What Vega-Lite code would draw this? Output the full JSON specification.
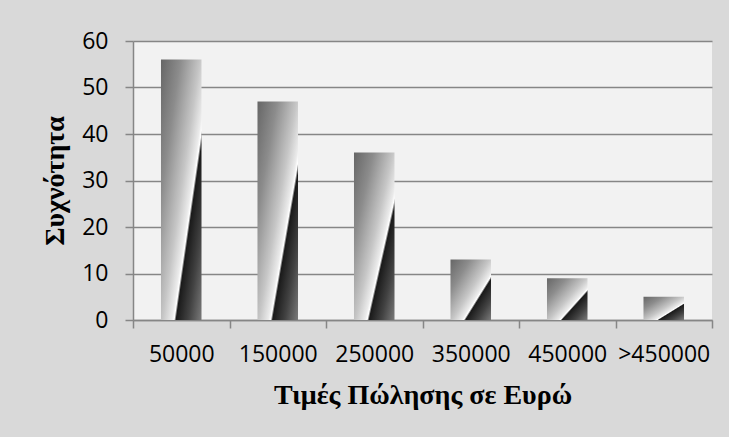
{
  "$schema": "https://vega.github.io/schema/vega-lite/v6.json",
  "width": 579,
  "height": 279,
  "autosize": {"type": "none"},
  "padding": {"left": 133, "top": 41, "right": 17, "bottom": 117},
  "background": "#d9d9d9",
  "config": {"view": {"fill": "#f2f2f2", "stroke": null}},
  "data": {
    "values": [
      {"price": "50000", "freq": 56},
      {"price": "150000", "freq": 47},
      {"price": "250000", "freq": 36},
      {"price": "350000", "freq": 13},
      {"price": "450000", "freq": 9},
      {"price": ">450000", "freq": 5}
    ]
  },
  "encoding": {
    "x": {
      "field": "price",
      "type": "nominal",
      "sort": null,
      "scale": {"paddingInner": 0, "paddingOuter": 0},
      "axis": {
        "title": "Τιμές Πώλησης σε Ευρώ",
        "titleFont": "Liberation Serif",
        "titleFontSize": 28,
        "titleFontWeight": "bold",
        "titleColor": "#000000",
        "titlePadding": 15,
        "labelFont": "Open Sans",
        "labelFontSize": 23,
        "labelColor": "#000000",
        "labelAngle": 0,
        "labelPadding": 15,
        "tickBand": "extent",
        "tickSize": 8,
        "tickColor": "#868686",
        "tickWidth": 1.5,
        "domainColor": "#868686",
        "domainWidth": 1.5,
        "grid": false
      }
    },
    "y": {
      "field": "freq",
      "type": "quantitative",
      "scale": {"domain": [0, 60]},
      "axis": {
        "values": [0, 10, 20, 30, 40, 50, 60],
        "title": "Συχνότητα",
        "titleFont": "Liberation Serif",
        "titleFontSize": 28,
        "titleFontWeight": "bold",
        "titleColor": "#000000",
        "titlePadding": 12,
        "labelFont": "Open Sans",
        "labelFontSize": 23,
        "labelColor": "#000000",
        "labelPadding": 17,
        "tickSize": 8,
        "tickColor": "#868686",
        "tickWidth": 1.5,
        "domainColor": "#868686",
        "domainWidth": 1.5,
        "grid": true,
        "gridColor": "#868686",
        "gridWidth": 1.5
      }
    }
  },
  "mark": {
    "type": "bar",
    "width": {"band": 0.42},
    "fill": {
      "gradient": "linear",
      "x1": 0, "y1": 0, "x2": 1.035, "y2": 0.962,
      "stops": [
        {"offset": 0, "color": "#666666"},
        {"offset": 0.25, "color": "#8c8c8c"},
        {"offset": 0.5, "color": "#c6c6c6"},
        {"offset": 0.62, "color": "#ebebeb"},
        {"offset": 0.65, "color": "#ffffff"},
        {"offset": 0.675, "color": "#1a1a1a"},
        {"offset": 0.83, "color": "#424242"},
        {"offset": 1, "color": "#7a7a7a"}
      ]
    }
  }
}
